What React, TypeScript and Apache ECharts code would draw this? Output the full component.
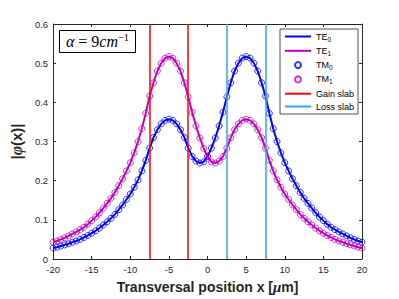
import React, { useEffect, useRef } from "react";
import * as echarts from "echarts";

// sampling grid of the transversal position (µm)
const xPositions: number[] = Array.from({ length: 81 }, (_, i) => -20 + i * 0.5);

// |phi(x)|, x = -20 ... 20 step 0.5
const te0: number[] = [
  0.028, 0.030, 0.033, 0.036, 0.039, 0.043, 0.046, 0.050, 0.055, 0.060,
  0.066, 0.072, 0.079, 0.087, 0.095, 0.104, 0.114, 0.126, 0.138, 0.152,
  0.166, 0.183, 0.202, 0.225, 0.252, 0.283, 0.310, 0.330, 0.345, 0.354,
  0.357, 0.354, 0.345, 0.330, 0.310, 0.283, 0.262, 0.250, 0.245, 0.248,
  0.262, 0.283, 0.309, 0.340, 0.375, 0.414, 0.450, 0.480, 0.500, 0.513,
  0.517, 0.513, 0.500, 0.480, 0.450, 0.416, 0.372, 0.333, 0.300, 0.271,
  0.246, 0.225, 0.205, 0.187, 0.170, 0.155, 0.142, 0.130, 0.118, 0.107,
  0.098, 0.089, 0.081, 0.075, 0.069, 0.064, 0.059, 0.054, 0.050, 0.046,
  0.043,
];
const te1: number[] = [
  0.043, 0.046, 0.050, 0.054, 0.059, 0.064, 0.069, 0.075, 0.081, 0.089,
  0.098, 0.107, 0.118, 0.130, 0.142, 0.155, 0.170, 0.187, 0.205, 0.225,
  0.246, 0.271, 0.300, 0.333, 0.372, 0.416, 0.450, 0.480, 0.500, 0.513,
  0.517, 0.513, 0.500, 0.480, 0.450, 0.414, 0.375, 0.340, 0.309, 0.283,
  0.262, 0.248, 0.245, 0.250, 0.262, 0.283, 0.310, 0.330, 0.345, 0.354,
  0.357, 0.354, 0.345, 0.330, 0.310, 0.283, 0.252, 0.225, 0.202, 0.183,
  0.166, 0.152, 0.138, 0.126, 0.114, 0.104, 0.095, 0.087, 0.079, 0.072,
  0.066, 0.060, 0.055, 0.050, 0.046, 0.043, 0.039, 0.036, 0.033, 0.030,
  0.028,
];
const tm0: number[] = te0;
const tm1: number[] = te1;

const gainSlab: number[] = [-7.5, -2.5];
const lossSlab: number[] = [2.5, 7.5];

const xTicks: number[] = [-20, -15, -10, -5, 0, 5, 10, 15, 20];
const yTicks: number[] = [0, 0.1, 0.2, 0.3, 0.4, 0.5, 0.6];

const SANS = "'Liberation Sans', Arial, Helvetica, sans-serif";
const SERIF = "'Liberation Serif', 'Times New Roman', serif";
const AX = "#262626";
const BLUE = "#0000ff";
const MAG = "#bf00bf";
const RED = "#ff0000";
const LBLUE = "#2ea6f2";

const legendNames: Record<string, string> = {
  TE0: "{n|TE}{s|0}",
  TE1: "{n|TE}{s|1}",
  TM0: "{n|TM}{s|0}",
  TM1: "{n|TM}{s|1}",
  "Gain slab": "{n|Gain slab}",
  "Loss slab": "{n|Loss slab}",
};

const hideSymbol = { color: "rgba(0,0,0,0)", borderWidth: 0 };

export default function App() {
  const ref = useRef<HTMLDivElement>(null);
  useEffect(() => {
    if (!ref.current) return;
    const chart = echarts.init(ref.current, undefined, {
      renderer: "svg",
      width: 399,
      height: 299,
    });
    const zip = (ys: number[]) => xPositions.map((x, i) => [x, ys[i]]);
    const axisCommon = {
      type: "value" as const,
      axisLine: { show: true, onZero: false, lineStyle: { color: AX, width: 1 } },
      axisTick: { show: true, inside: true, length: 3, lineStyle: { color: AX } },
      splitLine: { show: false },
    };
    chart.setOption({
      animation: false,
      backgroundColor: "#fff",
      grid: { left: 52, right: 37, top: 24, bottom: 35, containLabel: false },
      xAxis: [
        {
          ...axisCommon,
          position: "bottom",
          min: xTicks[0],
          max: xTicks[xTicks.length - 1],
          interval: 5,
          axisLabel: { color: AX, fontSize: 9.5, fontFamily: SANS, margin: 5 },
          name: "{b|Transversal position x [}{mu|μ}{b|m]}",
          nameLocation: "middle",
          nameGap: 20,
          nameTextStyle: {
            rich: {
              b: { fontFamily: SANS, fontWeight: "bold", fontSize: 14, color: AX },
              mu: { fontFamily: SERIF, fontStyle: "italic", fontWeight: "bold", fontSize: 15, color: AX },
            },
          },
        },
        {
          ...axisCommon,
          position: "top",
          min: xTicks[0],
          max: xTicks[xTicks.length - 1],
          interval: 5,
          axisLabel: { show: false },
        },
      ],
      yAxis: [
        {
          ...axisCommon,
          position: "left",
          min: yTicks[0],
          max: yTicks[yTicks.length - 1],
          interval: 0.1,
          axisLabel: {
            color: AX,
            fontSize: 9.5,
            fontFamily: SANS,
            margin: 5,
            formatter: (v: number) => String(Math.round(v * 10) / 10),
          },
          name: "{b||}{i|φ}{b|(x)|}",
          nameLocation: "middle",
          nameRotate: 90,
          nameGap: 21,
          nameTextStyle: {
            rich: {
              b: { fontFamily: SANS, fontWeight: "bold", fontSize: 15, color: AX },
              i: { fontFamily: SERIF, fontStyle: "italic", fontWeight: "bold", fontSize: 16, color: AX },
            },
          },
        },
        {
          ...axisCommon,
          position: "right",
          min: yTicks[0],
          max: yTicks[yTicks.length - 1],
          interval: 0.1,
          axisLabel: { show: false },
        },
      ],
      legend: {
        orient: "vertical",
        left: 280,
        top: 29,
        itemWidth: 26,
        itemHeight: 6,
        itemGap: 3.8,
        padding: [3, 4, 3, 4],
        borderColor: AX,
        borderWidth: 0.8,
        borderRadius: 0,
        backgroundColor: "#fff",
        data: [
          { name: "TE0", itemStyle: hideSymbol },
          { name: "TE1", itemStyle: hideSymbol },
          { name: "TM0" },
          { name: "TM1" },
          { name: "Gain slab", itemStyle: hideSymbol },
          { name: "Loss slab", itemStyle: hideSymbol },
        ],
        formatter: (name: string) => legendNames[name] ?? name,
        textStyle: {
          color: "#000",
          fontFamily: SANS,
          fontSize: 9,
          rich: {
            n: { fontFamily: SANS, fontSize: 9, color: "#000" },
            s: { fontFamily: SANS, fontSize: 6.5, color: "#000", padding: [5, 0, 0, 0] },
          },
        },
      },
      graphic: [
        {
          type: "group",
          left: 59,
          top: 30,
          z: 100,
          children: [
            {
              type: "rect",
              shape: { x: 0, y: 0, width: 76, height: 22 },
              style: { fill: "#fff", stroke: "#000", lineWidth: 1 },
            },
            {
              type: "text",
              x: 38,
              y: 11,
              style: {
                text: "{a|α}{r| = 9}{a|cm}{p|−1}",
                align: "center",
                verticalAlign: "middle",
                rich: {
                  a: { fontFamily: SERIF, fontStyle: "italic", fontSize: 16, color: "#000" },
                  r: { fontFamily: SERIF, fontSize: 16, color: "#000" },
                  p: { fontFamily: SERIF, fontSize: 10.5, color: "#000", padding: [0, 0, 8, 0] },
                },
              },
            },
          ],
        },
      ],
      series: [
        {
          name: "TE0",
          type: "line",
          data: zip(te0),
          symbol: "none",
          color: BLUE,
          lineStyle: { color: BLUE, width: 2 },
          z: 2,
        },
        {
          name: "TE1",
          type: "line",
          data: zip(te1),
          symbol: "none",
          color: MAG,
          lineStyle: { color: MAG, width: 2 },
          z: 2,
        },
        {
          name: "TM0",
          type: "scatter",
          data: zip(tm0),
          symbol: "circle",
          symbolSize: 6,
          color: BLUE,
          itemStyle: { color: "rgba(255,255,255,0)", borderColor: BLUE, borderWidth: 1 },
          z: 3,
        },
        {
          name: "TM1",
          type: "scatter",
          data: zip(tm1),
          symbol: "circle",
          symbolSize: 6,
          color: MAG,
          itemStyle: { color: "rgba(255,255,255,0)", borderColor: MAG, borderWidth: 1 },
          z: 3,
        },
        {
          name: "Gain slab",
          type: "line",
          data: [],
          symbol: "none",
          color: RED,
          lineStyle: { color: RED, width: 1.5 },
          z: 4,
          markLine: {
            silent: true,
            symbol: ["none", "none"],
            label: { show: false },
            lineStyle: { color: RED, width: 1.5, type: "solid" },
            data: gainSlab.map((v) => ({ xAxis: v })),
          },
        },
        {
          name: "Loss slab",
          type: "line",
          data: [],
          symbol: "none",
          color: LBLUE,
          lineStyle: { color: LBLUE, width: 1.5 },
          z: 4,
          markLine: {
            silent: true,
            symbol: ["none", "none"],
            label: { show: false },
            lineStyle: { color: LBLUE, width: 1.5, type: "solid" },
            data: lossSlab.map((v) => ({ xAxis: v })),
          },
        },
      ],
    });
    return () => chart.dispose();
  }, []);
  return (
    <div
      ref={ref}
      style={{ position: "fixed", left: 0, top: 0, width: 399, height: 299 }}
    />
  );
}
